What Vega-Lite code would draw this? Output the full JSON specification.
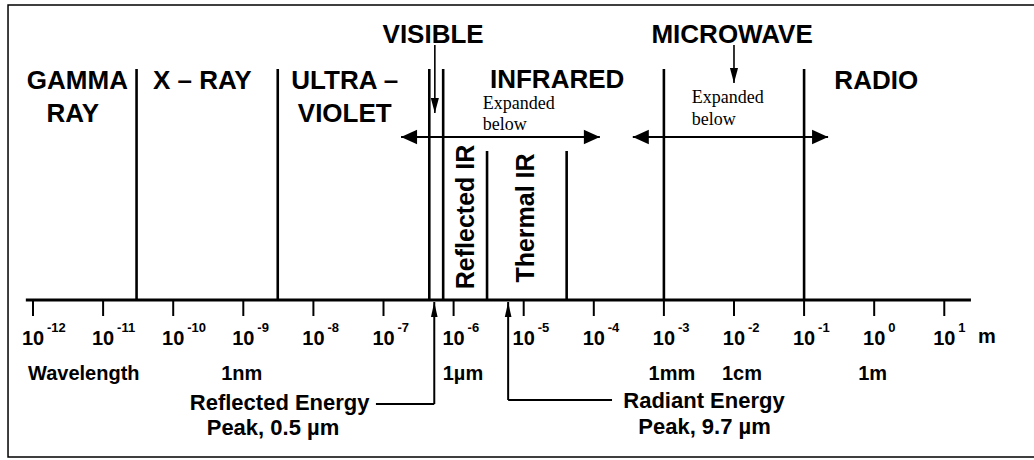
{
  "$schema": "https://vega.github.io/schema/vega-lite/v6.json",
  "width": 1034,
  "height": 460,
  "autosize": {"type": "none"},
  "padding": 0,
  "background": "white",
  "config": {"view": {"stroke": null}},
  "datasets": {
    "frame": [{"w": 4.4e-13, "w2": 300, "v": 295, "v2": -157}],
    "edges": [
      {"boundary": "gamma|x-ray", "w": 3.0e-11, "v": 231},
      {"boundary": "x-ray|ultraviolet", "w": 3.1e-9, "v": 231},
      {"boundary": "ultraviolet|visible", "w": 4.5e-7, "v": 231},
      {"boundary": "visible|infrared", "w": 7.1e-7, "v": 231},
      {"boundary": "reflected|thermal IR", "w": 3.0e-6, "v": 149},
      {"boundary": "thermal IR end", "w": 4.1e-5, "v": 149},
      {"boundary": "infrared|microwave", "w": 1.0e-3, "v": 231},
      {"boundary": "microwave|radio", "w": 0.1, "v": 231}
    ],
    "axisline": [{"w": 7.9e-13, "w2": 24, "v": 0}],
    "decades": [
      {"w": 1e-12, "v": 0, "exp": "-12"}, {"w": 1e-11, "v": 0, "exp": "-11"}, {"w": 1e-10, "v": 0, "exp": "-10"},
      {"w": 1e-9, "v": 0, "exp": "-9"}, {"w": 1e-8, "v": 0, "exp": "-8"}, {"w": 1e-7, "v": 0, "exp": "-7"},
      {"w": 1e-6, "v": 0, "exp": "-6"}, {"w": 1e-5, "v": 0, "exp": "-5"}, {"w": 1e-4, "v": 0, "exp": "-4"},
      {"w": 1e-3, "v": 0, "exp": "-3"}, {"w": 1e-2, "v": 0, "exp": "-2"}, {"w": 1e-1, "v": 0, "exp": "-1"},
      {"w": 1, "v": 0, "exp": "0"}, {"w": 10, "v": 0, "exp": "\u00a0\u00a01"}
    ],
    "spans": [
      {"band": "INFRARED", "w": 1.78e-7, "w2": 1.22e-4, "v": 163},
      {"band": "MICROWAVE", "w": 3.6e-4, "w2": 0.22, "v": 163}
    ],
    "pointers": [
      {"band": "VISIBLE", "w": 5.4e-7, "v": 187, "v2": 255},
      {"band": "MICROWAVE", "w": 1.0e-2, "v": 217, "v2": 255}
    ],
    "peaks": [
      {"name": "Reflected Energy", "w": 5.3e-7, "w2": 7.8e-8, "v": -104},
      {"name": "Radiant Energy", "w": 6.0e-6, "w2": 1.82e-4, "v": -100}
    ],
    "titles": [
      {"text": "GAMMA", "w": 4.3e-12, "v": 211},
      {"text": "RAY", "w": 3.7e-12, "v": 178.5},
      {"text": "X – RAY", "w": 2.6e-10, "v": 211},
      {"text": "ULTRA –", "w": 2.8e-8, "v": 211},
      {"text": "VIOLET", "w": 2.8e-8, "v": 178.5},
      {"text": "VISIBLE", "w": 5.1e-7, "v": 257},
      {"text": "INFRARED", "w": 3.0e-5, "v": 212},
      {"text": "MICROWAVE", "w": 9.4e-3, "v": 257.5},
      {"text": "RADIO", "w": 1.07, "v": 211}
    ],
    "subbands": [
      {"text": "Reflected IR", "w": 1.95e-6, "v": 83},
      {"text": "Thermal IR", "w": 1.42e-5, "v": 82}
    ],
    "notes": [
      {"text": "Expanded", "w": 2.6e-6, "v": 191},
      {"text": "below", "w": 2.6e-6, "v": 170.5},
      {"text": "Expanded", "w": 2.5e-3, "v": 196.7},
      {"text": "below", "w": 2.5e-3, "v": 175}
    ],
    "units": [
      {"text": "Wavelength", "w": 5.3e-12, "v": -80},
      {"text": "1nm", "w": 9.5e-10, "v": -80},
      {"text": "1µm", "w": 1.36e-6, "v": -80},
      {"text": "1mm", "w": 1.3e-3, "v": -80},
      {"text": "1cm", "w": 1.3e-2, "v": -80},
      {"text": "1m", "w": 0.95, "v": -80},
      {"text": "m", "w": 40.6, "v": -43}
    ],
    "peaklabels": [
      {"text": "Reflected Energy", "w": 3.3e-9, "v": -110},
      {"text": "Peak, 0.5 µm", "w": 2.65e-9, "v": -135},
      {"text": "Radiant Energy", "w": 3.73e-3, "v": -108},
      {"text": "Peak, 9.7 µm", "w": 3.8e-3, "v": -134}
    ]
  },
  "encoding": {
    "x": {"field": "w", "type": "quantitative", "scale": {"type": "log", "domain": [3.381e-13, 190.5], "nice": false}, "axis": null},
    "y": {"field": "v", "type": "quantitative", "scale": {"type": "linear", "domain": [-160, 300], "nice": false, "zero": false}, "axis": null}
  },
  "layer": [
    {
      "data": {"name": "frame"},
      "mark": {"type": "rect", "fill": null, "fillOpacity": 0, "stroke": "black", "strokeWidth": 1.5},
      "encoding": {"x2": {"field": "w2"}, "y2": {"field": "v2"}}
    },
    {
      "data": {"name": "edges"},
      "mark": {"type": "rule", "color": "black", "strokeWidth": 2.6},
      "encoding": {"y2": {"datum": 0}}
    },
    {
      "data": {"name": "axisline"},
      "mark": {"type": "rule", "color": "black", "strokeWidth": 3},
      "encoding": {"x2": {"field": "w2"}}
    },
    {
      "data": {"name": "decades"},
      "mark": {"type": "rule", "color": "black", "strokeWidth": 2},
      "encoding": {"y2": {"datum": -16}}
    },
    {
      "data": {"name": "decades"},
      "mark": {"type": "text", "font": "Liberation Sans", "fontWeight": "bold", "fontSize": 20, "align": "center", "baseline": "alphabetic", "fill": "black"},
      "encoding": {"y": {"datum": -45}, "text": {"value": "10"}}
    },
    {
      "data": {"name": "decades"},
      "mark": {"type": "text", "font": "Liberation Sans", "fontWeight": "bold", "fontSize": 13, "align": "left", "baseline": "alphabetic", "dx": 14, "fill": "black"},
      "encoding": {"y": {"datum": -31.5}, "text": {"field": "exp"}}
    },
    {
      "data": {"name": "spans"},
      "mark": {"type": "rule", "color": "black", "strokeWidth": 2},
      "encoding": {"x2": {"field": "w2"}}
    },
    {
      "data": {"name": "spans"},
      "mark": {"type": "point", "shape": "M0,0 L1,-0.45 L1,0.45 Z", "size": 1024, "filled": true, "fill": "black", "opacity": 1, "strokeWidth": 0}
    },
    {
      "data": {"name": "spans"},
      "mark": {"type": "point", "shape": "M0,0 L-1,-0.45 L-1,0.45 Z", "size": 1024, "filled": true, "fill": "black", "opacity": 1, "strokeWidth": 0},
      "encoding": {"x": {"field": "w2", "type": "quantitative", "scale": {"type": "log", "domain": [3.381e-13, 190.5], "nice": false}, "axis": null}}
    },
    {
      "data": {"name": "pointers"},
      "mark": {"type": "rule", "color": "black", "strokeWidth": 1.6},
      "encoding": {"y2": {"field": "v2"}}
    },
    {
      "data": {"name": "pointers"},
      "mark": {"type": "point", "shape": "M0,0 L-0.27,-1 L0.27,-1 Z", "size": 900, "filled": true, "fill": "black", "opacity": 1, "strokeWidth": 0}
    },
    {
      "data": {"name": "peaks"},
      "mark": {"type": "rule", "color": "black", "strokeWidth": 2},
      "encoding": {"y2": {"datum": -2}}
    },
    {
      "data": {"name": "peaks"},
      "mark": {"type": "rule", "color": "black", "strokeWidth": 2},
      "encoding": {"x2": {"field": "w2"}}
    },
    {
      "data": {"name": "peaks"},
      "mark": {"type": "point", "shape": "M0,0 L-0.22,1 L0.22,1 Z", "size": 900, "filled": true, "fill": "black", "opacity": 1, "strokeWidth": 0},
      "encoding": {"y": {"datum": -2}}
    },
    {
      "data": {"name": "titles"},
      "mark": {"type": "text", "font": "Liberation Sans", "fontWeight": "bold", "fontSize": 26, "align": "center", "baseline": "alphabetic", "fill": "black"},
      "encoding": {"text": {"field": "text"}}
    },
    {
      "data": {"name": "subbands"},
      "mark": {"type": "text", "font": "Liberation Sans", "fontWeight": "bold", "fontSize": 25, "align": "center", "baseline": "alphabetic", "angle": 270, "fill": "black"},
      "encoding": {"text": {"field": "text"}}
    },
    {
      "data": {"name": "notes"},
      "mark": {"type": "text", "font": "Liberation Serif", "fontSize": 18, "align": "left", "baseline": "alphabetic", "fill": "black"},
      "encoding": {"text": {"field": "text"}}
    },
    {
      "data": {"name": "units"},
      "mark": {"type": "text", "font": "Liberation Sans", "fontWeight": "bold", "fontSize": 20, "align": "center", "baseline": "alphabetic", "fill": "black"},
      "encoding": {"text": {"field": "text"}}
    },
    {
      "data": {"name": "peaklabels"},
      "mark": {"type": "text", "font": "Liberation Sans", "fontWeight": "bold", "fontSize": 22, "align": "center", "baseline": "alphabetic", "fill": "black"},
      "encoding": {"text": {"field": "text"}}
    }
  ]
}
